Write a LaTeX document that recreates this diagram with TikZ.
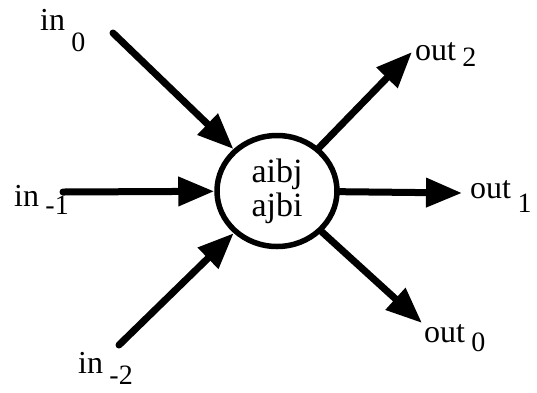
\documentclass[tikz,border=0pt]{standalone}
\usepackage{fontspec}
\setmainfont{Liberation Serif}
\newfontfamily\labelfont{Liberation Serif}
\usetikzlibrary{arrows.meta, shapes}

% word, index, how far the index drops
\newcommand{\portlbl}[3]{#1\hspace{0.2em}\raisebox{-#3pt}{\fontsize{28}{28}\selectfont #2}}

\begin{document}
\begin{tikzpicture}[
    x=1pt, y=-1pt,
    core/.style={
        ellipse,
        draw,
        line width=5.5pt,
        minimum width=120pt,
        minimum height=111pt,
        inner sep=0pt,
        align=center,
        font=\labelfont\fontsize{34}{34}\selectfont
    },
    port/.style={anchor=base west, inner sep=0pt, font=\labelfont\fontsize{32}{32}\selectfont},
    arrow/.style={-{Triangle[length=36pt, width=28pt]}, line width=7pt, line cap=round}
]
\useasboundingbox (0,0) rectangle (537,392);

\node[core] (mix) at (277,191) {aibj\\ajbi};

% inputs
\node[port] (in0) at (40,30) {\portlbl{in}{0}{21}};
\node[port] (in1) at (14,206) {\portlbl{in}{-1}{8}};
\node[port] (in2) at (78,373) {\portlbl{in}{-2}{11}};

% outputs
\node[port] (out2) at (415,60) {\portlbl{out}{2}{6}};
\node[port] (out1) at (470,198) {\portlbl{out}{1}{14}};
\node[port] (out0) at (424,342) {\portlbl{out}{0}{9}};

\coordinate (in0s) at (113,33);
\coordinate (in1s) at (63,192);
\coordinate (in2s) at (119,345);
\coordinate (out2e) at (412,52);
\coordinate (out1e) at (462,193);
\coordinate (out0e) at (422,323);

\draw[arrow] (in0s) -- (mix);
\draw[arrow] (in1s) -- (mix);
\draw[arrow] (in2s) -- (mix);
\draw[arrow] (mix) -- (out2e);
\draw[arrow] (mix) -- (out1e);
\draw[arrow] (mix) -- (out0e);

\end{tikzpicture}
\end{document}
